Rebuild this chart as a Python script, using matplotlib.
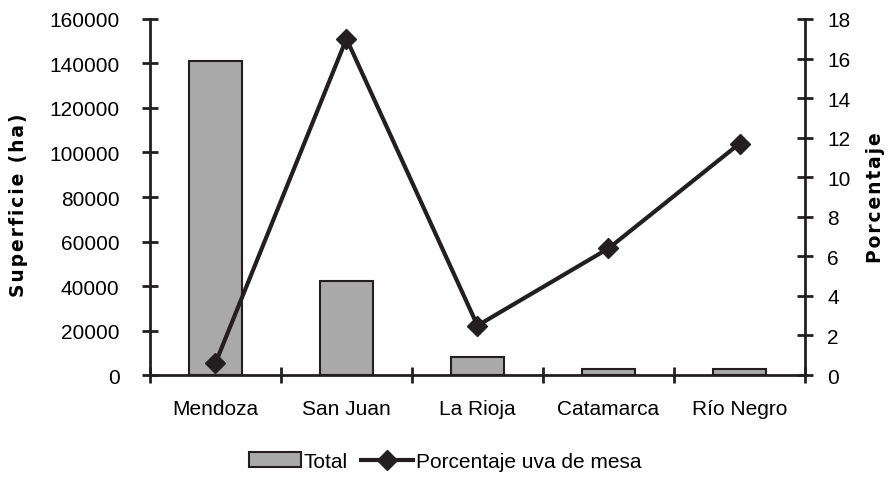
import numpy as np
import matplotlib
matplotlib.use('Agg')
import matplotlib.pyplot as plt
from matplotlib.ticker import FixedLocator

plt.rcParams['font.family'] = ['Liberation Sans', 'DejaVu Sans']

# Data
provincias = ['Mendoza', 'San Juan', 'La Rioja', 'Catamarca', 'Río Negro']
superficie = [141000, 42300, 8000, 2600, 2900]
porcentaje = [0.6, 17.0, 2.5, 6.4, 11.7]

dark = '#231f20'
fs = 15
hs = '\u200a'  # hair space for slight letter tracking


def tracked(s):
    return hs.join(s)


fig = plt.figure(figsize=(8.9, 4.85), dpi=100)
ax = fig.add_axes([0.1685, 0.2247, 0.7360, 0.7341])
x = np.arange(len(provincias))

bars = ax.bar(x, superficie, width=0.4, color='#a9a9a9', edgecolor=dark,
              linewidth=1.5, label='Total')
ax.set_xlim(-0.5, len(provincias) - 0.5)
ax.set_ylim(0, 160000)
ax.set_yticks(np.arange(0, 160001, 20000))
ax.set_xticks(x)
ax.set_xticklabels(provincias, fontsize=fs)
ax.xaxis.set_minor_locator(FixedLocator(np.arange(-0.5, len(provincias), 1)))
ax.tick_params(axis='x', which='major', length=0, pad=17)
ax.tick_params(axis='x', which='minor', direction='inout', length=12, width=2, color=dark)
ax.tick_params(axis='y', direction='inout', length=12, width=2, color=dark,
               labelsize=fs, pad=16)
ax.set_ylabel(tracked('Superficie (ha)'), fontsize=13.5, fontweight='bold',
              family=['DejaVu Sans'])
ax.yaxis.set_label_coords(-0.186, 0.48)

for side in ['top', 'right']:
    ax.spines[side].set_visible(False)
for side in ['left', 'bottom']:
    ax.spines[side].set_linewidth(2)
    ax.spines[side].set_color(dark)

ax2 = ax.twinx()
line, = ax2.plot(x, porcentaje, color=dark, linewidth=3, marker='D',
                 markersize=10, label='Porcentaje uva de mesa')
ax2.set_ylim(0, 18)
ax2.set_yticks(np.arange(0, 19, 2))
ax2.tick_params(axis='y', direction='inout', length=12, width=2, color=dark,
                labelsize=fs, pad=10)
ax2.set_ylabel(tracked('Porcentaje'), fontsize=13.5, fontweight='bold',
               family=['DejaVu Sans'])
ax2.yaxis.set_label_coords(1.093, 0.5)
for side in ['top', 'left', 'bottom']:
    ax2.spines[side].set_visible(False)
ax2.spines['right'].set_linewidth(2)
ax2.spines['right'].set_color(dark)

fig.legend([bars, line], ['Total', 'Porcentaje uva de mesa'], loc='lower center',
           bbox_to_anchor=(0.5, -0.012), ncol=2, frameon=False, fontsize=fs,
           handlelength=2.5, columnspacing=0.6, handletextpad=0.15)

fig.savefig('out.png', dpi=100)
